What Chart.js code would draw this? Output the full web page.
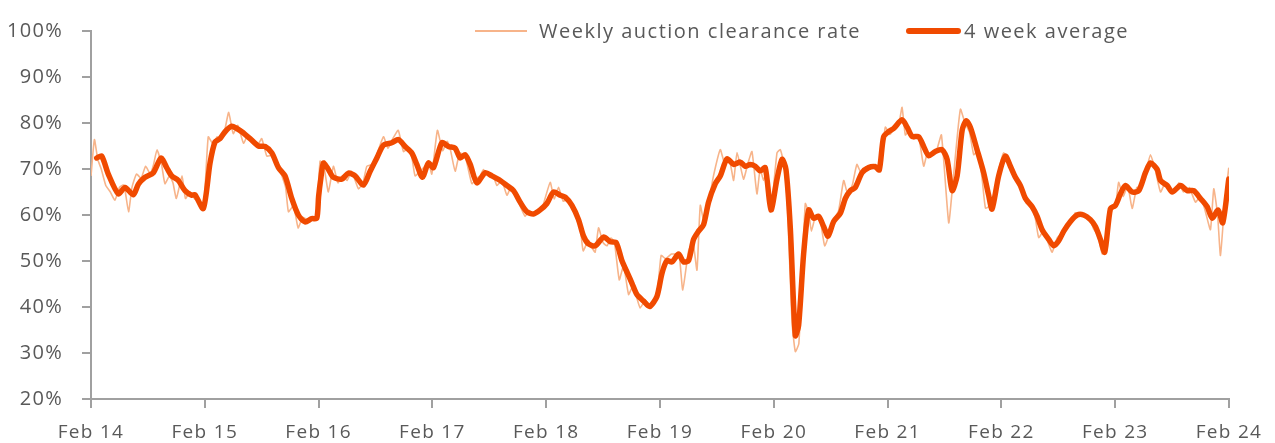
<!DOCTYPE html>
<html>
<head>
<meta charset="utf-8">
<script src="https://cdn.jsdelivr.net/npm/chart.js@4/dist/chart.umd.min.js"></script>
<style>
html,body{margin:0;padding:0;background:#fff;}
#wrap{width:1275px;height:443px;position:relative;}
</style>
</head>
<body>
<div id="wrap"><canvas id="c" width="1275" height="443"></canvas></div>
<script>
// x positions are years since Feb 2014
const tickLabels = ['Feb 14','Feb 15','Feb 16','Feb 17','Feb 18','Feb 19','Feb 20','Feb 21','Feb 22','Feb 23','Feb 24'];
const seriesNames = ['Weekly auction clearance rate','4 week average'];

const weeklyT = [0.00,0.03,0.06,0.09,0.13,0.17,0.21,0.25,0.29,0.33,0.36,0.40,0.44,0.48,0.52,0.55,0.58,0.62,0.65,0.69,0.72,0.75,0.80,0.83,0.87,0.91,0.95,0.99,
1.03,1.07,1.11,1.15,1.18,1.21,1.25,1.29,1.34,1.38,1.42,1.46,1.50,1.545,1.59,1.63,1.67,1.71,1.735,1.78,1.82,1.86,1.90,1.94,1.98,
2.013,2.05,2.086,2.13,2.17,2.21,2.25,2.29,2.35,2.39,2.424,2.47,2.51,2.57,2.61,2.65,2.70,2.746,2.79,2.82,2.848,2.89,2.93,2.965,2.995,
3.044,3.09,3.13,3.16,3.20,3.24,3.29,3.347,3.39,3.42,3.449,3.49,3.53,3.567,3.61,3.655,3.69,3.73,3.77,3.815,3.85,3.89,3.93,3.97,
4.035,4.07,4.108,4.15,4.19,4.23,4.27,4.30,4.325,4.37,4.40,4.43,4.46,4.50,4.534,4.57,4.60,4.642,4.68,4.724,4.76,4.79,4.826,4.87,4.91,4.95,4.98,
5.01,5.05,5.10,5.14,5.17,5.20,5.251,5.29,5.325,5.354,5.39,5.43,5.47,5.53,5.57,5.61,5.647,5.677,5.734,5.77,5.808,5.852,5.88,5.91,5.94,5.975,
6.028,6.057,6.09,6.12,6.16,6.189,6.22,6.25,6.277,6.31,6.33,6.37,6.41,6.447,6.49,6.53,6.57,6.614,6.65,6.69,6.73,6.77,6.81,6.85,6.89,6.93,6.98,
7.02,7.06,7.10,7.127,7.156,7.19,7.23,7.27,7.317,7.35,7.39,7.43,7.473,7.537,7.57,7.60,7.64,7.68,7.72,7.757,7.79,7.83,7.86,7.90,7.94,7.98,
8.02,8.06,8.10,8.14,8.18,8.22,8.26,8.30,8.328,8.37,8.41,8.446,8.49,8.53,8.57,8.61,8.65,8.69,8.73,8.77,8.81,8.85,8.885,8.92,8.96,
9.00,9.03,9.07,9.11,9.149,9.19,9.23,9.27,9.31,9.35,9.398,9.44,9.48,9.52,9.56,9.60,9.65,9.705,9.75,9.79,9.837,9.866,9.90,9.925,9.96,9.998];
const weeklyV = [68.5,76.4,72,70,66.4,65,63.2,66,66.5,60.7,66,68.9,68,70.6,69,71,74.2,71,66.8,68.5,67,63.6,68.5,63.6,65,63.5,63,61.5,
77.0,75.5,77,76.5,79,82.3,77.7,79.5,75.6,77.5,76,75,76.6,72.8,73,71.5,69,66,60.7,62,57.2,59.5,59,59.5,59,
71.7,70,65.0,70.6,67,68.5,67.5,69.5,65.7,67,70.6,71,73,77.0,74.5,76.5,78.4,73.8,74.5,72.5,68.5,69.5,70.5,71.5,68.9,
78.4,74,76,74,69.5,73.5,72.5,66.8,68,68.5,69.9,68.5,68.8,66.4,67.5,64.3,66,64.5,62,59.7,61,60,61,62,
67.1,63.5,66,63,63.5,62,59,57,52.2,54.5,53,51.9,57.2,54,53.3,55,54,45.9,49,42.7,44.5,42.5,39.8,41.5,40.5,41.5,44,
51.2,50.5,51.5,51.5,51,43.7,52.2,54,48.0,62.1,58,63,68.5,74.2,71,72,67.5,73.6,67.8,71,73.8,64.6,70,67.5,70,61,
73.5,74.2,71,62,36.7,30.3,32,48,62.5,60,56.5,60,58.5,53.3,56,59,61,67.5,64.5,66.5,71.0,69,70.5,70,71,69.5,79.1,
77.5,79,80,83.4,77.4,78.5,76.5,77.5,70.6,73.5,73,74,77.4,58.3,66,74,83.0,80,78,73.1,74,68,61.5,62,64,70,
73.5,71,69.5,67.5,65,62.5,62.5,59,55.1,56.5,54,51.9,55,56,58,58.5,60.5,60,59.5,59.5,57,55.5,51.5,55,62,
61.5,67.1,64,66.5,61.4,66,66,69.5,73.1,70,65.0,67,65.5,65,67,65,66,62.8,64,61,56.8,65.7,60,51.2,62,70.3];

const avgT = [0.05,0.094,0.152,0.24,0.299,0.372,0.416,0.475,0.548,0.615,0.665,0.709,0.767,0.826,0.885,0.914,0.987,
1.046,1.09,1.134,1.178,1.237,1.281,1.325,1.398,1.471,1.53,1.589,1.647,1.705,1.764,1.822,1.881,1.94,1.984,
2.0,2.02,2.042,2.086,2.13,2.204,2.262,2.321,2.394,2.453,2.512,2.57,2.643,2.702,2.76,2.819,2.863,2.912,2.965,
3.009,3.083,3.141,3.2,3.244,3.288,3.332,3.391,3.464,3.523,3.596,3.655,3.713,3.771,3.83,3.888,3.947,
4.006,4.064,4.123,4.167,4.226,4.284,4.328,4.372,4.431,4.504,4.563,4.615,4.665,4.715,4.753,4.797,4.855,4.908,4.973,
5.017,5.061,5.105,5.163,5.207,5.251,5.295,5.339,5.383,5.427,5.486,5.53,5.589,5.647,5.705,5.749,5.793,5.837,5.881,5.925,5.975,
6.028,6.072,6.107,6.145,6.189,6.218,6.262,6.306,6.35,6.394,6.438,6.477,6.526,6.585,6.629,6.673,6.716,6.775,6.833,6.892,6.927,6.965,
7.009,7.053,7.127,7.171,7.215,7.273,7.317,7.361,7.42,7.479,7.523,7.567,7.611,7.655,7.69,7.727,7.786,7.844,7.888,7.918,7.976,
8.035,8.079,8.123,8.167,8.211,8.27,8.314,8.358,8.416,8.46,8.504,8.548,8.607,8.666,8.723,8.782,8.826,8.87,8.908,8.958,
9.002,9.046,9.09,9.149,9.207,9.266,9.31,9.369,9.398,9.457,9.501,9.574,9.633,9.69,9.749,9.808,9.852,9.905,9.945,9.998];
const avgV = [72.4,72.8,68.9,64.6,66.0,64.4,66.7,68.2,69.2,72.4,70.3,68.5,67.5,65.3,64.3,64.4,61.4,
71.3,75.9,76.6,78.1,79.3,78.8,78.1,76.6,75.0,74.9,73.5,70.3,68.5,63.6,60.0,58.5,59.2,59.3,
64,68,71.3,69.9,68.2,67.8,69.1,68.5,66.5,69.5,72.4,75.2,75.7,76.4,74.9,73.5,71.0,68.2,71.3,
70.3,75.7,74.9,74.5,72.4,73.1,71.0,67.0,69.2,68.5,67.5,66.4,65.3,62.8,60.7,60.2,61.1,
62.5,65.0,64.3,63.9,62.1,59.0,55.4,53.7,53.3,55.2,54.2,54.0,50.1,47.3,45.2,42.7,41.3,40.1,42.3,
47.3,50.1,49.8,51.5,49.8,50.1,54.7,56.5,57.9,62.8,66.8,68.5,72.2,71.0,71.5,70.6,71.0,70.6,69.6,70.3,61.1,
67.8,72.1,69.9,57.2,33.8,36.0,51.5,61.1,59.3,59.7,57.5,55.4,58.6,60.4,63.6,65.3,66.0,69.2,70.3,70.5,69.8,77.0,
78.1,78.8,80.7,79.1,77.1,77.0,74.9,72.9,73.8,74.2,72.1,65.3,68.5,78.4,80.5,79.1,74.2,69.2,64.3,61.3,68.5,
72.8,70.6,68.2,66.4,63.6,61.8,59.7,56.8,54.7,53.3,54.4,56.5,58.6,60.0,60.0,59.0,57.5,54.7,51.9,61.4,
62.1,64.6,66.4,65.0,65.3,69.2,71.3,69.9,67.5,66.4,65.0,66.4,65.3,65.3,63.6,61.8,59.3,61.1,58.3,67.8];

const weeklyColor = '#F7B48A';
const avgColor = '#F04A00';
const textColor = '#595959';
const axisColor = '#A0A0A0';
const FONT = '"Open Sans", sans-serif';

const weeklyData = weeklyT.map((t,i)=>({x:t,y:weeklyV[i]}));
const avgData = avgT.map((t,i)=>({x:t,y:avgV[i]}));

const spacingPlugin = {
  id:'spacing',
  beforeDraw(chart){ chart.ctx.letterSpacing = '1.3px'; }
};

const legendPlugin = {
  id:'customLegend',
  afterDraw(chart){
    const ctx = chart.ctx;
    ctx.save();
    const y = 31;
    ctx.lineCap = 'butt';
    ctx.strokeStyle = weeklyColor; ctx.lineWidth = 2;
    ctx.beginPath(); ctx.moveTo(475,y); ctx.lineTo(527,y); ctx.stroke();
    ctx.strokeStyle = avgColor; ctx.lineWidth = 6; ctx.lineCap='round';
    ctx.beginPath(); ctx.moveTo(909,y); ctx.lineTo(958,y); ctx.stroke();
    ctx.fillStyle = textColor;
    ctx.font = '20px ' + FONT;
    ctx.letterSpacing = '1.5px';
    ctx.textBaseline = 'middle';
    ctx.textAlign = 'left';
    ctx.fillText(seriesNames[0], 539, y + 1);
    ctx.fillText(seriesNames[1], 964, y + 1);
    ctx.restore();
  }
};

new Chart(document.getElementById('c'), {
  type:'line',
  data:{
    datasets:[
      {label:seriesNames[1], data:avgData, borderColor:avgColor, borderWidth:5.5, pointRadius:0, tension:0.25, order:0, borderJoinStyle:'round', borderCapStyle:'round'},
      {label:seriesNames[0], data:weeklyData, borderColor:weeklyColor, borderWidth:1.6, pointRadius:0, tension:0.15, order:1}
    ]
  },
  options:{
    responsive:false,
    animation:false,
    devicePixelRatio:1,
    layout:{padding:{top:21,right:46,left:0,bottom:0}},
    plugins:{legend:{display:false}, tooltip:{enabled:false}},
    scales:{
      x:{
        type:'linear', min:0, max:10,
        afterFit(s){ s.height = 44; },
        border:{display:true,color:axisColor,width:2},
        grid:{display:true,drawOnChartArea:false,drawTicks:true,tickLength:9,color:axisColor,lineWidth:2},
        ticks:{stepSize:1, autoSkip:false, maxRotation:0, padding:13, color:textColor, font:{family:FONT,size:19},
          callback:(v)=>tickLabels[Math.round(v)] ?? ''}
      },
      y:{
        min:20, max:100,
        afterFit(s){ s.width = 91; },
        border:{display:true,color:axisColor,width:2},
        grid:{display:true,drawOnChartArea:false,drawTicks:true,tickLength:9,color:axisColor,lineWidth:2},
        ticks:{stepSize:10, padding:19, color:textColor, font:{family:FONT,size:20}, callback:(v)=>v+'%'}
      }
    }
  },
  plugins:[spacingPlugin, legendPlugin]
});
</script>
</body>
</html>
